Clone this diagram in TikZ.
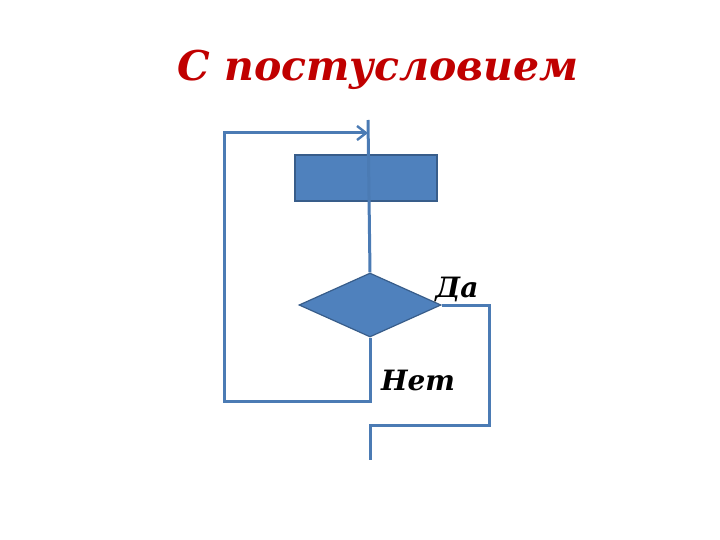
\documentclass[tikz,border=0pt]{standalone}
\usepackage{fontspec}
\setmainfont{DejaVu Serif}
\usetikzlibrary{arrows.meta,shapes.geometric}
\definecolor{flowblue}{HTML}{4F81BD}
\definecolor{flowedge}{HTML}{385D8A}
\definecolor{titlered}{HTML}{C00000}
\tikzset{
	flowline/.style={line width=3pt, color=flowblue!95!black},
	procbox/.style={draw=flowedge, line width=1.6pt, fill=flowblue, minimum width=142pt, minimum height=46pt, inner sep=0pt},
	condbox/.style={diamond, draw=flowedge, line width=1.2pt, fill=flowblue, minimum width=142pt, minimum height=64pt, inner sep=0pt, aspect=2.2},
	lbl/.style={font=\bfseries\itshape\fontsize{28}{31}\selectfont}
}

\begin{document}
\begin{tikzpicture}[x=1pt, y=-1pt]
		%%%%% START %%%%%
		\useasboundingbox (0, 0) rectangle (720, 540);
		
		\node[color=titlered, font=\bfseries\itshape\fontsize{41}{46}\selectfont] (title) at (378, 70) {С постусловием};
		
		\node[procbox] (proc) at (366, 178) {};
		\node[condbox] (cond) at (370, 305) {};
		
		\coordinate (top) at (368, 120);
		\coordinate (loopin) at (368, 133);
		\draw[flowline] (top) -- (cond.north);
		
		% Нет
		\coordinate (nobend) at (370, 401);
		\coordinate (loopbl) at (224, 401);
		\coordinate (looptl) at (224, 133);
		\draw[flowline, -{Straight Barb[length=9pt, width=14pt, line width=2.4pt]}] (cond.south) -- (nobend) -- (loopbl) -- (looptl) -- (loopin);
		
		% Да
		\coordinate (yesr) at (489, 305);
		\coordinate (yesbr) at (489, 425);
		\coordinate (yesbl) at (370, 425);
		\coordinate (exit) at (370, 460);
		\draw[flowline] (cond.east) -- (yesr) -- (yesbr) -- (yesbl) -- (exit);
		
		\node[lbl] (yes) at (457, 289) {Да};
		\node[lbl] (no) at (418, 380) {Нет};
		
		%%%%% END %%%%%
	\end{tikzpicture}
\end{document}
